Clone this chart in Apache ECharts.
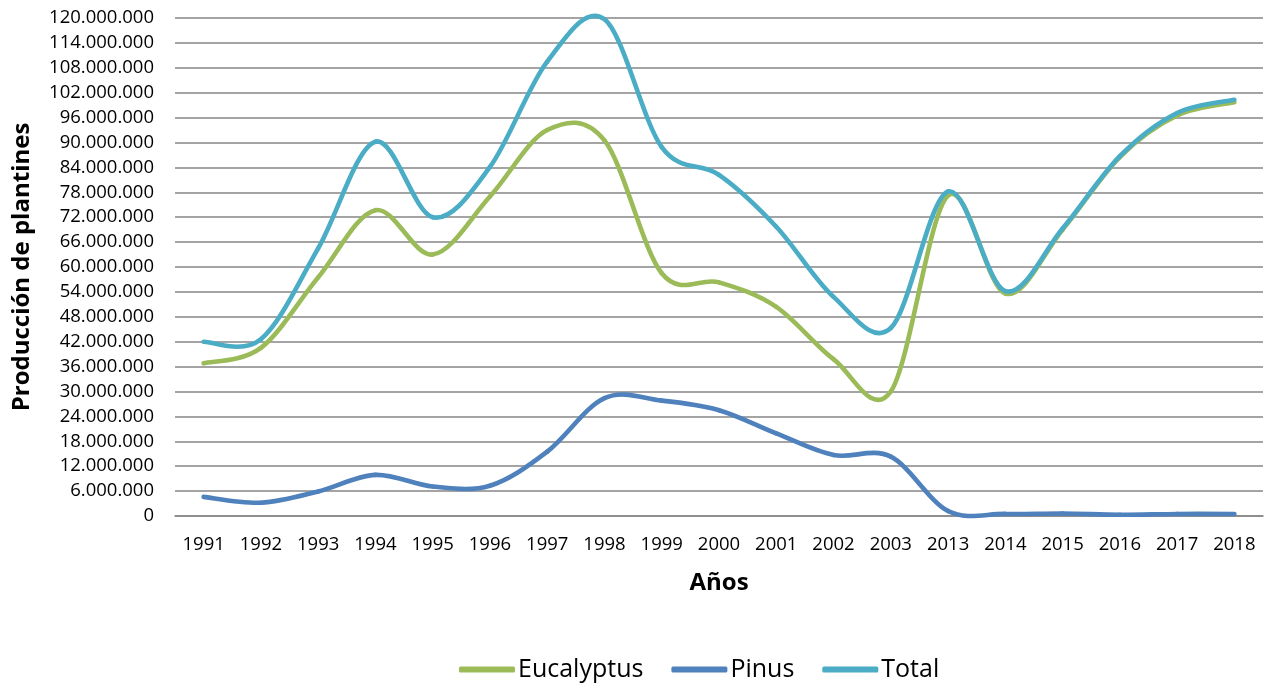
<!DOCTYPE html>
<html>
<head>
<meta charset="utf-8">
<script src="https://cdn.jsdelivr.net/npm/echarts@6/dist/echarts.min.js"></script>
<style>html,body{margin:0;padding:0;background:#fff}#c{width:1271px;height:686px}</style>
</head>
<body>
<div id="c"></div>
<script>
const years = ['1991','1992','1993','1994','1995','1996','1997','1998','1999','2000','2001','2002','2003','2013','2014','2015','2016','2017','2018'];
const eucalyptus = [36800000,40500000,57500000,73700000,63000000,77000000,93000000,90500000,58500000,56300000,50400000,37800000,30000000,77200000,53600000,69000000,86500000,96500000,99700000];
const pinus = [4600000,3200000,5900000,9900000,7100000,7300000,15500000,28400000,27800000,25500000,19900000,14700000,14300000,1200000,500000,600000,300000,500000,500000];
const total = [42000000,42600000,64500000,90200000,72000000,84100000,109500000,119700000,88900000,82200000,69700000,52800000,45300000,78200000,54200000,69300000,86700000,97100000,100300000];
const yTicks = {min: 0, max: 120000000, interval: 6000000};

function fmt(v){ return String(Math.round(v)).replace(/\B(?=(\d{3})+(?!\d))/g, '.'); }

const font = '"Open Sans", "Noto Sans", sans-serif';

// Smoothed line (Catmull-Rom style Bezier, like a spreadsheet "smoothed line"),
// drawn segment by segment from the data through the chart's own axes.
function smoothSeries(name, values, color) {
  return {
    name, type: 'custom', coordinateSystem: 'cartesian2d', clip: false,
    data: values.map((v, i) => [i, v]),
    encode: {x: 0, y: 1},
    itemStyle: {color},
    renderItem: function (params, api) {
      const i = params.dataIndex;
      const n = values.length;
      if (i >= n - 1) return null;
      const P = k => api.coord([k, values[k]]);
      const p0 = P(Math.max(i - 1, 0)), p1 = P(i), p2 = P(i + 1), p3 = P(Math.min(i + 2, n - 1));
      const t = 1 / 6;
      return {
        type: 'bezierCurve',
        shape: {
          x1: p1[0], y1: p1[1], x2: p2[0], y2: p2[1],
          cpx1: p1[0] + (p2[0] - p0[0]) * t, cpy1: p1[1] + (p2[1] - p0[1]) * t,
          cpx2: p2[0] - (p3[0] - p1[0]) * t, cpy2: p2[1] - (p3[1] - p1[1]) * t
        },
        style: {stroke: color, lineWidth: 4.6, fill: null, lineCap: 'round'},
        silent: true
      };
    },
    animation: false
  };
}

const chart = echarts.init(document.getElementById('c'), null, {renderer: 'canvas'});
chart.setOption({
  animation: false,
  grid: {left: 175, right: 8, top: 18, bottom: 170, containLabel: false},
  legend: {
    left: 454, top: 652, itemWidth: 56, itemHeight: 6, itemGap: 28, icon: 'roundRect',
    textStyle: {fontFamily: font, fontSize: 25, color: '#000', padding: [0, 0, 0, -2]},
    data: ['Eucalyptus', 'Pinus', 'Total']
  },
  xAxis: {
    type: 'category', data: years, boundaryGap: true,
    name: 'Años', nameLocation: 'middle', nameGap: 55,
    nameTextStyle: {fontFamily: font, fontSize: 24, fontWeight: 'bold', color: '#000'},
    axisLine: {show: true, lineStyle: {color: '#868686', width: 1.5}},
    axisTick: {show: false},
    axisLabel: {fontFamily: font, fontSize: 18.5, color: '#000', margin: 19, interval: 0}
  },
  yAxis: {
    type: 'value', min: yTicks.min, max: yTicks.max, interval: yTicks.interval,
    name: 'Producción de plantines', nameLocation: 'middle', nameGap: 141,
    nameTextStyle: {fontFamily: font, fontSize: 24, fontWeight: 'bold', color: '#000'},
    axisLine: {show: false}, axisTick: {show: false},
    splitLine: {lineStyle: {color: '#868686', width: 1.5}},
    axisLabel: {fontFamily: font, fontSize: 18.5, color: '#000', margin: 21, formatter: fmt}
  },
  series: [
    smoothSeries('Eucalyptus', eucalyptus, '#9BBB59'),
    smoothSeries('Pinus', pinus, '#4F81BD'),
    smoothSeries('Total', total, '#4BACC6')
  ]
});
</script>
</body>
</html>
